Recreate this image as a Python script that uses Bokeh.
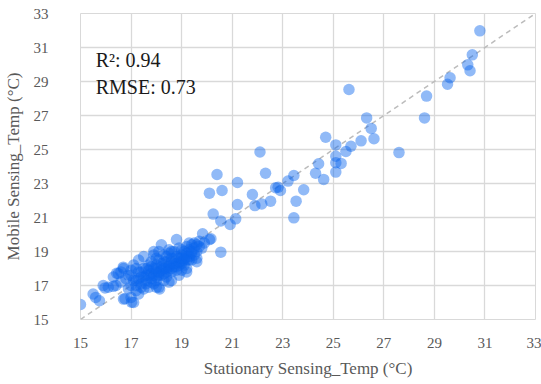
from bokeh.plotting import figure
from bokeh.models import FixedTicker, Label, Range1d
from bokeh.embed import file_html
from bokeh.resources import INLINE

stationary = [
    15.0, 15.5, 15.6, 15.75, 15.97, 16.1, 16.3, 15.9,
    16.4, 16.6, 16.5, 16.7, 16.8, 16.9, 17.0, 17.1, 16.7, 17.0, 17.0, 17.1,
    17.2, 17.2, 17.3, 17.3, 17.3, 17.4, 17.4, 17.5, 17.5, 17.5, 17.6, 17.6,
    17.7, 17.7, 17.7, 17.8, 17.8, 17.8, 17.9, 17.9, 17.9, 18.0, 18.0, 18.0,
    18.0, 18.1, 18.1, 18.1, 18.2, 18.2, 18.2, 18.3, 18.3, 18.3, 18.4, 18.4,
    18.4, 18.5, 18.5, 18.5, 18.6, 18.6, 18.6, 18.7, 18.7, 18.7, 18.8, 18.8,
    18.8, 18.9, 18.9, 19.0, 19.0, 19.0, 19.0, 19.1, 19.1, 19.1, 19.2, 19.2,
    19.2, 19.2, 19.3, 19.3, 19.4, 19.4, 19.4, 19.5, 19.5, 19.5, 19.6, 19.6,
    19.7,
    17.2, 17.4, 17.6, 17.8, 18.0, 18.2, 18.4, 18.6, 18.8, 19.0,
    17.1, 17.3, 17.5, 17.7, 17.9, 18.1, 18.3, 18.5, 18.7, 18.9, 19.1, 19.3,
    17.4, 17.6, 17.8, 18.0, 18.2, 18.4, 18.6, 18.8, 19.0, 19.2, 19.4,
    17.2, 18.0, 18.3, 18.6, 18.9, 19.3, 19.6, 19.8,
    16.9, 16.3, 16.6, 17.0, 17.9, 18.5, 18.1, 19.2, 19.6, 18.9, 18.5, 19.7,
    16.43, 16.69, 16.76, 17.02, 18.13,
    19.83, 20.16, 20.55, 20.1, 19.9, 20.25, 20.55, 20.92, 21.14, 21.21,
    20.1, 20.6, 20.4, 21.21, 21.8, 21.9, 22.17, 22.1, 22.32, 22.52, 22.72,
    22.91, 22.82, 23.21, 23.44, 23.83, 23.53, 23.44, 24.3, 24.42, 24.62,
    24.7, 25.1, 25.1, 25.31, 25.1, 25.1, 25.5, 25.7, 25.62, 26.1, 26.32,
    26.5, 26.61, 27.6, 28.61, 28.69, 29.52, 29.62, 30.32, 30.41, 30.5, 30.8,
]
mobile = [
    15.88, 16.5, 16.3, 16.1, 16.86, 16.9, 16.95, 17.0,
    17.0, 17.2, 17.7, 18.0, 17.4, 16.8, 16.3, 16.0, 16.2, 17.0, 17.6, 18.2,
    17.3, 16.7, 17.8, 18.5, 16.5, 17.1, 17.5, 18.0, 16.8, 18.7, 17.3, 17.6,
    16.9, 18.2, 17.9, 17.4, 17.7, 18.4, 17.1, 18.0, 18.8, 17.5, 17.8, 18.2,
    16.9, 17.6, 18.5, 16.9, 17.9, 18.1, 19.4, 17.3, 17.7, 18.4, 18.0, 18.7,
    17.5, 18.2, 17.9, 18.9, 18.4, 17.3, 17.8, 18.1, 18.6, 19.0, 18.3, 17.9,
    19.7, 18.6, 18.2, 18.8, 18.4, 19.1, 17.9, 18.6, 19.0, 18.2, 18.9, 18.5,
    19.3, 18.0, 18.7, 19.1, 18.9, 19.4, 18.5, 19.2, 18.8, 19.5, 19.0, 18.6,
    19.3,
    17.0, 16.9, 17.1, 17.2, 17.3, 17.6, 17.8, 18.0, 18.1, 18.3,
    17.3, 17.4, 17.5, 17.6, 17.6, 17.8, 18.0, 18.1, 18.3, 18.4, 18.5, 18.5,
    17.8, 18.0, 18.1, 18.0, 18.3, 18.4, 18.6, 18.7, 18.6, 18.7, 19.0,
    18.0, 18.6, 18.8, 19.0, 19.2, 19.5, 19.4, 19.2,
    17.6, 17.5, 17.8, 17.9, 19.0, 19.1, 19.0, 17.8, 18.4, 17.6, 17.2, 19.6,
    17.72, 18.08, 16.22, 16.02, 16.8,
    20.04, 19.75, 18.96, 19.7, 19.5, 21.2, 20.8, 20.59, 20.92, 21.76,
    22.43, 22.59, 23.53, 23.06, 22.35, 21.7, 21.8, 24.85, 23.6, 21.96, 22.75,
    22.59, 22.78, 23.14, 23.47, 22.63, 21.96, 20.98, 23.6, 24.16, 23.24,
    25.72, 25.27, 24.6, 24.18, 24.22, 23.67, 24.88, 25.19, 28.53, 25.51, 26.86,
    26.24, 25.63, 24.82, 26.86, 28.14, 28.84, 29.22, 29.98, 29.63, 30.57, 31.98,
]

ticks = list(range(15, 34, 2))
diag = [15, 33]
r2_text = "R²: 0.94"
rmse_text = "RMSE: 0.73"

FONT = "Liberation Serif"
GREY = "#d9d9d9"
TXT = "#595959"

p = figure(width=541, height=384, output_backend="svg", toolbar_location=None,
           x_range=Range1d(15, 33), y_range=Range1d(15, 33),
           min_border_left=77, min_border_right=6, min_border_top=13,
           min_border_bottom=65)
p.background_fill_color = "white"
p.border_fill_color = "white"
p.outline_line_color = GREY

for ax in (p.xaxis[0], p.yaxis[0]):
    ax.ticker = FixedTicker(ticks=ticks)
    ax.axis_line_color = None
    ax.major_tick_line_color = None
    ax.minor_tick_line_color = None
    ax.major_label_text_font = FONT
    ax.major_label_text_font_size = "15px"
    ax.major_label_text_color = TXT
    ax.axis_label_text_font = FONT
    ax.axis_label_text_font_size = "17px"
    ax.axis_label_text_font_style = "normal"
    ax.axis_label_text_color = TXT

p.xaxis.axis_label = "Stationary Sensing_Temp (°C)"
p.yaxis.axis_label = "Mobile Sensing_Temp (°C)"
p.xaxis.major_label_standoff = 12
p.xaxis.axis_label_standoff = 8
p.yaxis.major_label_standoff = 26
p.yaxis.axis_label_standoff = 8

p.xgrid.ticker = FixedTicker(ticks=ticks)
p.ygrid.ticker = FixedTicker(ticks=ticks)
p.grid.grid_line_color = GREY
p.grid.grid_line_width = 1.3

p.line(diag, diag, line_color="#bcbcbc", line_width=1.5, line_dash="5 4")
p.scatter(stationary, mobile, size=11.5, fill_color="#0a66ee", fill_alpha=0.45,
          line_color=None)

for txt, yy in ((r2_text, 30.25), (rmse_text, 28.65)):
    p.add_layout(Label(x=15.6, y=yy, text=txt, text_font=FONT,
                       text_font_size="20px", text_color="#1a1a1a",
                       text_baseline="alphabetic"))

open("out.html", "w").write(file_html(p, INLINE))
